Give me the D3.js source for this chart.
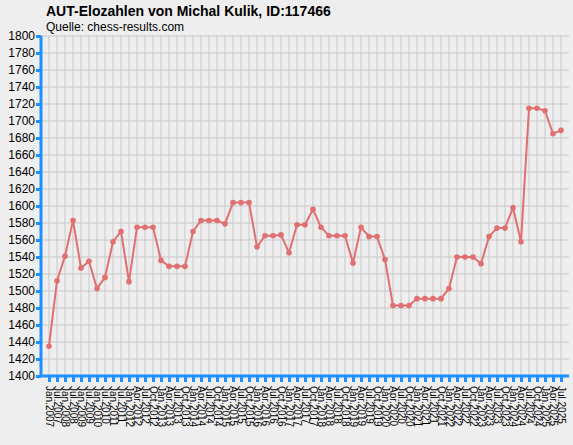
<!DOCTYPE html><html><head><script src="https://cdn.jsdelivr.net/npm/d3@7"></script>
<style>body{margin:0;background:#eeeeee}svg{display:block}</style></head><body><script>
const labels=["Jan.2007","Jul.2007","Jan.2008","Jul.2008","Jan.2009","Jul.2009","Jan.2010","Jul.2010","Jan.2011","Jul.2011"];
for(let y=2012;y<=2025;y++)for(const m of["Jan","Apr","Jul","Oct"]){if(y==2025&&m=="Oct")break;labels.push(m+"."+y);}
const values=[1435,1512,1541,1583,1527,1535,1503,1516,1558,1570,1511,1575,1575,1575,1536,1529,1529,1529,1570,1583,1583,1583,1579,1604,1604,1604,1552,1565,1565,1566,1545,1578,1578,1596,1575,1565,1565,1565,1533,1575,1564,1564,1537,1483,1483,1483,1491,1491,1491,1491,1503,1540,1540,1540,1532,1564,1574,1574,1598,1558,1715,1715,1712,1685,1689];
const yTicks=d3.range(1400,1801,20);
const W=573,H=445,L=41,R=569,T=36,B=376;
const svg=d3.select("body").append("svg").attr("width",W).attr("height",H).style("font-family","Liberation Sans, Arial, sans-serif");
const x=d3.scalePoint().domain(labels).range([49,561]);
const y=d3.scaleLinear().domain([1400,1800]).range([B,T]);
const g=svg.append("g");
g.selectAll(".v").data(labels).join("line").attr("x1",d=>x(d)).attr("x2",d=>x(d)).attr("y1",T).attr("y2",B).attr("stroke","#c8c8c8");
g.selectAll(".h").data(yTicks).join("line").attr("x1",L).attr("x2",R).attr("y1",d=>y(d)).attr("y2",d=>y(d)).attr("stroke","#c8c8c8");
const ya=svg.append("g").attr("transform",`translate(${L},0)`).call(d3.axisLeft(y).tickValues(yTicks).tickSize(5).tickFormat(d3.format("d")));
ya.select(".domain").attr("stroke","#1e90ff").attr("stroke-width",3).attr("d",`M0,${T}V${B}`);
ya.selectAll(".tick line").attr("stroke","#1e90ff").attr("stroke-width",3);
ya.selectAll("text").attr("font-size",12).attr("fill","#000").attr("x",-6);
const xa=svg.append("g").attr("transform",`translate(0,${B})`).call(d3.axisBottom(x).tickSize(6));
xa.select(".domain").attr("stroke","#1e90ff").attr("stroke-width",3).attr("d",`M${L},0H${R}`);
xa.selectAll(".tick line").attr("stroke","#1e90ff").attr("stroke-width",3);
xa.selectAll("text").attr("font-size",10).attr("fill","#000").attr("transform","rotate(90)").attr("text-anchor","start").attr("x",10).attr("y",-4).attr("dy","0.71em");
const line=d3.line().x((d,i)=>x(labels[i])).y(d=>y(d));
svg.append("path").datum(values).attr("d",line).attr("fill","none").attr("stroke","#e07070").attr("stroke-width",2);
svg.selectAll(".p").data(values).join("circle").attr("cx",(d,i)=>x(labels[i])).attr("cy",d=>y(d)).attr("r",2.8).attr("fill","#e07070");
svg.append("text").attr("x",46).attr("y",16).attr("font-size",14).attr("font-weight","bold").text("AUT-Elozahlen von Michal Kulik, ID:117466");
svg.append("text").attr("x",46).attr("y",31).attr("font-size",12).text("Quelle: chess-results.com");
</script></body></html>
